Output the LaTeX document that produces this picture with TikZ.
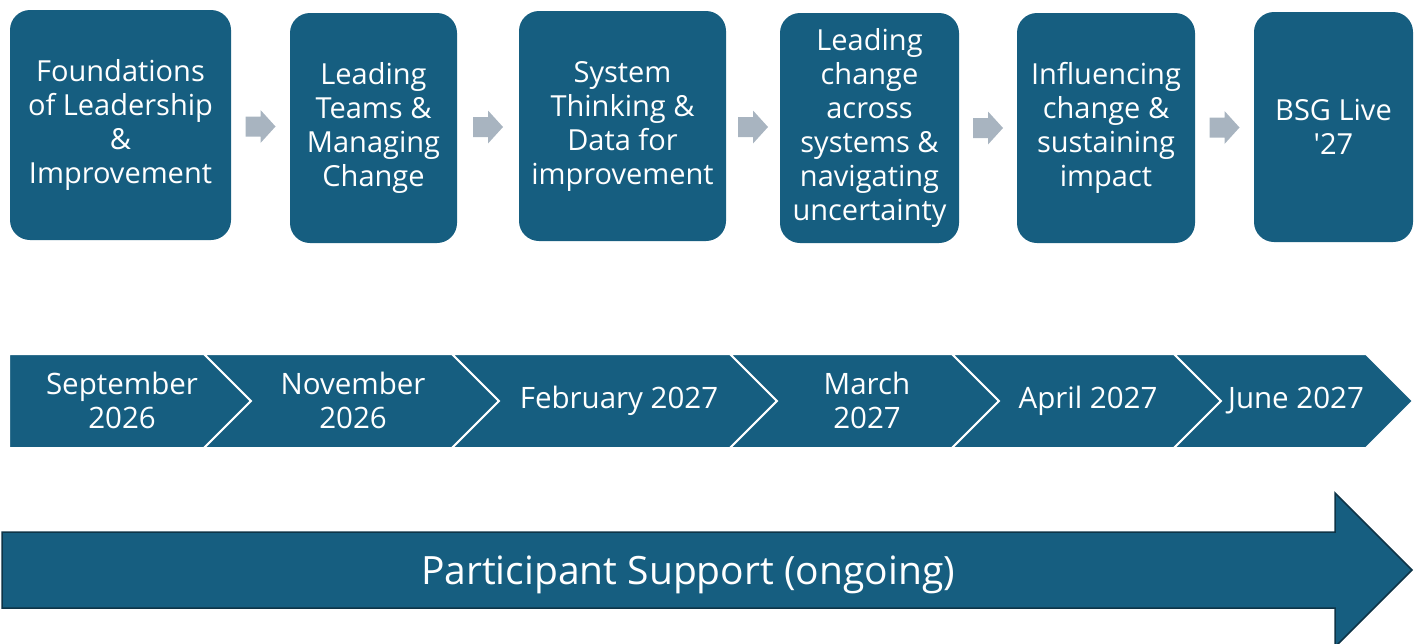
\documentclass[tikz,border=0pt]{standalone}
\usepackage{fontspec}
\setmainfont{Open Sans}
\usetikzlibrary{calc}
\definecolor{tealblue}{HTML}{165E80}
\definecolor{arrowgrey}{HTML}{A8B4C0}
\definecolor{darkedge}{HTML}{0E3447}

\begin{document}
\begin{tikzpicture}[x=1pt, y=-1pt]
	% Styles
	\tikzstyle{stage} = [rectangle, fill=tealblue, text=white, align=center, rounded corners=20pt, inner sep=0pt, minimum height=230pt, font=\fontsize{29}{34}\selectfont]
	\tikzstyle{chev} = [fill=tealblue, draw=white, line width=2pt, line join=miter]
	\tikzstyle{datelabel} = [text=white, align=center, font=\fontsize{29.5}{34}\selectfont]
	\tikzstyle{nextarrow} = [fill=arrowgrey]
	
	\useasboundingbox (0,0) rectangle (1421,643);
	
	% Stage boxes
	\node[stage, minimum width=221pt] (foundations) at (120.5,125) {Foundations\\of Leadership\\\&\\Improvement};
	\node[stage, minimum width=167pt] (teams) at (373.5,128) {Leading\\Teams \&\\Managing\\Change};
	\node[stage, minimum width=207pt] (thinking) at (622.5,126) {System\\Thinking \&\\Data for\\improvement};
	\node[stage, minimum width=179pt] (systems) at (869.5,128) {Leading\\change\\across\\systems \&\\navigating\\uncertainty};
	\node[stage, minimum width=178pt] (influencing) at (1106,128) {Influencing\\change \&\\sustaining\\impact};
	\node[stage, minimum width=159pt] (live) at (1333.5,127) {BSG Live\\{\addfontfeatures{Ligatures=TeXOff}'27}};
	
	% Grey arrows between stages
	\foreach \a/\b in {foundations/teams, teams/thinking, thinking/systems, systems/influencing, influencing/live} {
		\coordinate (mid) at ($(\a.east)!0.5!(\b.west)$);
		\fill[nextarrow] (mid) ++(-15,-10) -- ++(15,0) -- ++(0,-6.5) -- ++(15,16.5) -- ++(-15,16.5) -- ++(0,-6.5) -- ++(-15,0) -- cycle;
	}
	
	% Timeline chevrons
	\foreach \l/\r/\k in {9/204/0, 204/452/47, 452/730/47, 730/952/47, 952/1174/47, 1174/1366/47} {
		\filldraw[chev] (\l,354) -- (\r,354) -- (\r+47,401) -- (\r,448) -- (\l,448) -- (\l+\k,401) -- cycle;
	}
	
	% Dates
	\node[datelabel] (sep) at (122,400) {September\\2026};
	\node[datelabel] (nov) at (353,400) {November\\2026};
	\node[datelabel] (feb) at (619,401) {February 2027};
	\node[datelabel] (mar) at (867,400) {March\\2027};
	\node[datelabel] (apr) at (1088,401) {April 2027};
	\node[datelabel] (jun) at (1296,401) {June 2027};
	
	% Ongoing support
	\filldraw[fill=tealblue, draw=darkedge, line width=1.5pt] (2,532) -- (1335,532) -- (1335,493) -- (1412,570) -- (1335,647) -- (1335,608) -- (2,608) -- cycle;
	\node[text=white, font=\fontsize{39}{44}\selectfont] (support) at (688,575) {Participant Support (ongoing)};
\end{tikzpicture}
\end{document}
